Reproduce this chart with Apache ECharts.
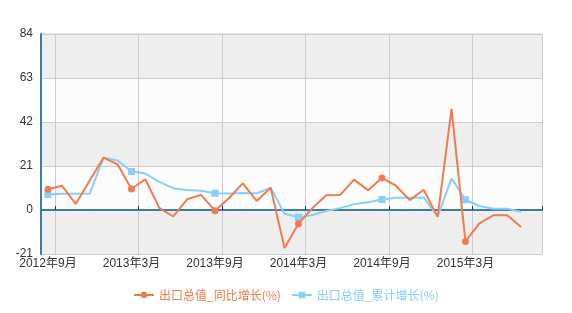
<!DOCTYPE html>
<html>
<head>
<meta charset="utf-8">
<script src="https://cdn.jsdelivr.net/npm/echarts@6/dist/echarts.min.js"></script>
<style>
  html, body { margin: 0; padding: 0; background: #ffffff; }
  #chart { width: 572px; height: 313px; }
</style>
</head>
<body>
<div id="chart"></div>
<script>
// Monthly categories (last month has no data yet)
var months = [
  '2012年9月', '2012年10月', '2012年11月', '2012年12月',
  '2013年1月', '2013年2月', '2013年3月', '2013年4月', '2013年5月', '2013年6月',
  '2013年7月', '2013年8月', '2013年9月', '2013年10月', '2013年11月', '2013年12月',
  '2014年1月', '2014年2月', '2014年3月', '2014年4月', '2014年5月', '2014年6月',
  '2014年7月', '2014年8月', '2014年9月', '2014年10月', '2014年11月', '2014年12月',
  '2015年1月', '2015年2月', '2015年3月', '2015年4月', '2015年5月', '2015年6月',
  '2015年7月', '2015年8月'
];

// 出口总值 同比增长 (%)
var yoyGrowth = [
  9.9, 11.6, 2.9, 14.1,
  25.0, 21.8, 10.0, 14.7, 1.0, -3.1,
  5.1, 7.2, -0.3, 5.6, 12.7, 4.3,
  10.6, -18.1, -6.6, 0.9, 7.0, 7.2,
  14.5, 9.4, 15.3, 11.6, 4.7, 9.7,
  -3.3, 48.3, -15.0, -6.4, -2.5, -2.5,
  -8.1, null
];

// 出口总值 累计增长 (%)
var ytdGrowth = [
  7.4, 7.8, 7.8, 7.9,
  25.0, 23.6, 18.4, 17.4, 13.4, 10.4,
  9.6, 9.2, 8.0, 7.9, 8.1, 7.9,
  10.6, -1.8, -3.5, -2.4, -0.5, 0.9,
  2.8, 3.7, 5.0, 5.8, 5.9, 6.0,
  -3.1, 15.0, 4.9, 1.9, 0.6, 0.6,
  -0.9, null
];

var yTicks = { min: -21, max: 84, step: 21 };

var seriesNames = ['出口总值_同比增长(%)', '出口总值_累计增长(%)'];
var colorYoy = '#f27a4c';
var colorYtd = '#87cefa';
var axisBlue = '#3b7ca8';

// show a marker every half year only
function markEvery(values) {
  return values.map(function (v, i) {
    return i % 6 === 0 ? v : { value: v, symbol: 'none' };
  });
}

function halfYearBoundary(i) { return i % 6 === 1; }
function halfYearLabel(i) { return i % 6 === 0; }

var chart = echarts.init(document.getElementById('chart'), null, { renderer: 'canvas' });

chart.setOption({
  animation: false,
  textStyle: { fontFamily: '"Liberation Sans", "Noto Sans CJK SC", sans-serif' },
  grid: {
    left: 41, right: 30, top: 34, bottom: 59,
    show: true, borderColor: '#cccccc', borderWidth: 1
  },
  legend: {
    bottom: 7,
    left: 128,
    itemWidth: 20,
    itemHeight: 8,
    itemGap: 10,
    textStyle: { fontSize: 12, fontFamily: '"Noto Sans CJK SC", sans-serif' },
    data: [
      { name: seriesNames[0], textStyle: { color: colorYoy } },
      { name: seriesNames[1], textStyle: { color: colorYtd } }
    ]
  },
  xAxis: [
    {
      type: 'category',
      data: months,
      boundaryGap: true,
      axisLine: { show: false, onZero: false },
      axisTick: { show: false },
      axisLabel: {
        interval: halfYearLabel,
        color: '#333333',
        fontSize: 12,
        margin: 4
      },
      splitLine: {
        show: true,
        interval: halfYearBoundary,
        lineStyle: { color: '#cccccc', width: 1 }
      }
    },
    {
      // zero line with small ticks
      type: 'category',
      data: months,
      boundaryGap: true,
      position: 'top',
      axisLine: { show: true, onZero: true, lineStyle: { color: axisBlue, width: 2 } },
      axisTick: { show: true, interval: halfYearBoundary, length: 4, lineStyle: { color: '#333333' } },
      axisLabel: { show: false },
      splitLine: { show: false }
    }
  ],
  yAxis: {
    type: 'value',
    min: yTicks.min,
    max: yTicks.max,
    interval: yTicks.step,
    axisLine: { show: true, lineStyle: { color: axisBlue, width: 2 } },
    axisTick: { show: false },
    axisLabel: { color: '#333333', fontSize: 12, margin: 8 },
    splitLine: { show: true, lineStyle: { color: '#cccccc', width: 1 } },
    splitArea: { show: true, areaStyle: { color: ['#eeeeee', '#fcfcfc'] } }
  },
  series: [
    {
      name: seriesNames[0],
      type: 'line',
      xAxisIndex: 0,
      data: markEvery(yoyGrowth),
      symbol: 'circle',
      symbolSize: 7,
      showAllSymbol: true,
      itemStyle: { color: colorYoy },
      lineStyle: { color: colorYoy, width: 2 },
      z: 3
    },
    {
      name: seriesNames[1],
      type: 'line',
      xAxisIndex: 0,
      data: markEvery(ytdGrowth),
      symbol: 'rect',
      symbolSize: 7,
      showAllSymbol: true,
      itemStyle: { color: colorYtd },
      lineStyle: { color: colorYtd, width: 2 },
      z: 2
    }
  ]
});
</script>
</body>
</html>
